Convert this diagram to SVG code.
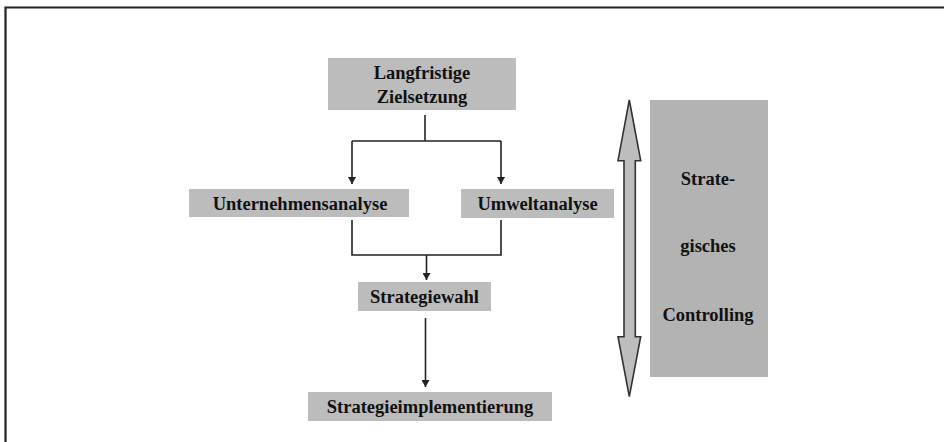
<svg xmlns="http://www.w3.org/2000/svg" width="944" height="442" viewBox="0 0 944 442">
<defs>
<style>
.box{fill:#bcbcbc;}
.big{fill:#b3b3b3;}
.lbl{font-family:"Liberation Serif","Times New Roman",serif;font-weight:bold;font-size:18.5px;fill:#111;text-anchor:middle;}
.conn{fill:none;stroke:#222;stroke-width:1.6;}
</style>
<marker id="ah" markerWidth="8" markerHeight="8" refX="7" refY="4" orient="auto" markerUnits="userSpaceOnUse">
<path d="M0,0 L7,4 L0,8 Z" fill="#222"/>
</marker>
</defs>
<rect width="944" height="442" fill="#fff"/>
<path d="M5.5,442 V7.5 H944" fill="none" stroke="#222" stroke-width="2.2"/>

<g id="langfristige">
<rect class="box" x="328" y="58" width="188" height="52"/>
<text class="lbl" x="422" y="79">Langfristige</text>
<text class="lbl" x="422" y="103">Zielsetzung</text>
</g>
<g id="unternehmensanalyse">
<rect class="box" x="189" y="189" width="220" height="28"/>
<text class="lbl" x="300" y="210">Unternehmensanalyse</text>
</g>
<g id="umweltanalyse">
<rect class="box" x="461" y="189" width="153" height="29"/>
<text class="lbl" x="537.5" y="210">Umweltanalyse</text>
</g>
<g id="strategiewahl">
<rect class="box" x="358" y="282" width="133" height="29"/>
<text class="lbl" x="424.5" y="303">Strategiewahl</text>
</g>
<g id="strategieimplementierung">
<rect class="box" x="308" y="392" width="244" height="29"/>
<text class="lbl" x="430" y="412.5">Strategieimplementierung</text>
</g>
<g id="controlling">
<rect class="big" x="650" y="100" width="118" height="277"/>
<text class="lbl" x="708" y="185">Strate-</text>
<text class="lbl" x="708" y="252">gisches</text>
<text class="lbl" x="708" y="321">Controlling</text>
</g>
<g id="double-arrow">
<path d="M629.3,100 L640.7,160.7 L635.3,160.7 L635.3,336.7 L640.7,336.7 L629.3,396.7 L618,336.7 L624,336.7 L624,160.7 L618,160.7 Z" fill="#bdbdbd" stroke="#333" stroke-width="1.6" stroke-linejoin="miter"/>
</g>

<g id="connectors">
<path class="conn" d="M425,115 V141"/>
<path class="conn" d="M352,141 H501"/>
<path class="conn" d="M352,141 V184" marker-end="url(#ah)"/>
<path class="conn" d="M501,141 V184" marker-end="url(#ah)"/>
<path class="conn" d="M352,220 V255 H501 V220"/>
<path class="conn" d="M426.5,255 V280" marker-end="url(#ah)"/>
<path class="conn" d="M425.5,318 V387" marker-end="url(#ah)"/>
</g>
</svg>
